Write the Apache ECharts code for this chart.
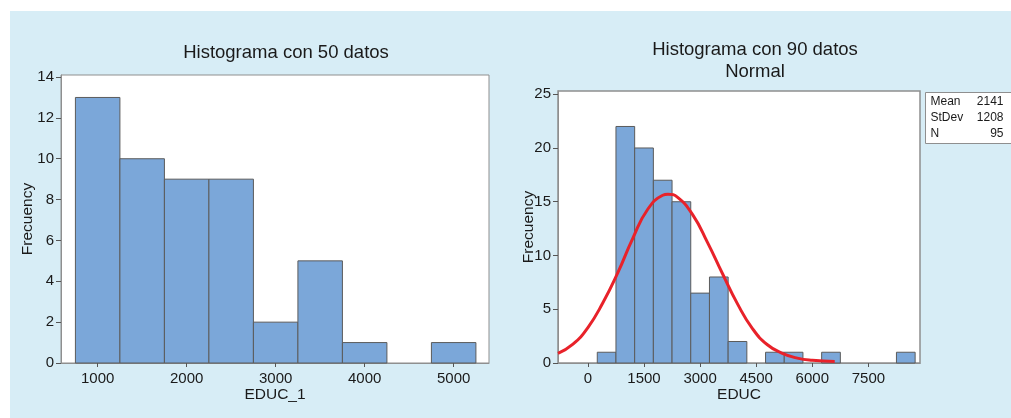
<!DOCTYPE html>
<html>
<head>
<meta charset="utf-8">
<script src="https://cdn.jsdelivr.net/npm/echarts@6/dist/echarts.min.js"></script>
<style>
body { margin: 0; background: #fff; }
#bg { position: absolute; left: 10px; top: 11px; width: 1001px; height: 407px; background: #d7edf6; }
#main { position: absolute; left: 0; top: 0; width: 1011px; height: 418px; }
</style>
</head>
<body>
<div id="bg"></div>
<div id="main"></div>
<script>
// histograma 1 (50 datos)
var binWidth = 500;
var centros1 = [1000, 1500, 2000, 2500, 3000, 3500, 4000, 4500, 5000];
var frec1 = [13, 10, 9, 9, 2, 5, 1, 0, 1];
var ticksX1 = [1000, 2000, 3000, 4000, 5000];
var ticksY1 = [0, 2, 4, 6, 8, 10, 12, 14];

// histograma 2 (EDUC)
var centros2 = [500, 1000, 1500, 2000, 2500, 3000, 3500, 4000, 4500, 5000, 5500, 6000, 6500, 7000, 7500, 8000, 8500];
var frec2 = [1, 22, 20, 17, 15, 6.5, 8, 2, 0, 1, 1, 0, 1, 0, 0, 0, 1];
var ticksX2 = [0, 1500, 3000, 4500, 6000, 7500];
var ticksY2 = [0, 5, 10, 15, 20, 25];

// curva normal
var curvaX = [-800, -400, 0, 400, 800, 1200, 1600, 2000, 2140, 2400, 2800, 3200, 3600, 4000, 4400, 4800, 5200, 5600, 6000, 6600];
var curvaY = [0.9, 1.75, 3.3, 5.6, 8.4, 11.6, 14.3, 15.6, 15.7, 15.4, 13.8, 11.2, 8.3, 5.5, 3.2, 1.7, 0.9, 0.45, 0.25, 0.15];

var statsNombres = ['Mean', 'StDev', 'N'];
var statsValores = ['2141', '1208', '95'];

var barColor = '#7ba7d9';
var barEdge = '#5b5b5b';
var txtColor = '#1a1a1a';
var frameColor = '#8f8f8f';
var fontFam = '"Liberation Sans", Arial, sans-serif';

function binData(centros, frec) {
    var out = [];
    for (var i = 0; i < centros.length; i++) {
        if (frec[i] > 0) out.push([centros[i] - binWidth / 2, centros[i] + binWidth / 2, frec[i]]);
    }
    return out;
}

function renderHist(params, api) {
    var p0 = api.coord([api.value(0), api.value(2)]);
    var p1 = api.coord([api.value(1), 0]);
    return {
        type: 'rect',
        shape: { x: p0[0], y: p0[1], width: p1[0] - p0[0], height: p1[1] - p0[1] },
        style: { fill: barColor, stroke: barEdge, lineWidth: 1 }
    };
}

var curva = curvaX.map(function (x, i) { return [x, curvaY[i]]; });

function plain(v) { return String(v); }

function xAxisCfg(idx, min, max, ticks, name) {
    return {
        type: 'value', gridIndex: idx, min: min, max: max,
        name: name, nameLocation: 'middle', nameGap: 24, nameMoveOverlap: false,
        nameTextStyle: { color: txtColor, fontSize: 15.5, fontFamily: fontFam },
        splitLine: { show: false },
        axisLine: { show: true, onZero: false, lineStyle: { color: frameColor } },
        axisTick: { show: true, inside: false, length: 4, customValues: ticks, lineStyle: { color: '#555' } },
        axisLabel: { customValues: ticks, formatter: plain, color: txtColor, fontSize: 15, fontFamily: fontFam, margin: 8 }
    };
}

function yAxisCfg(idx, max, ticks, gap) {
    return {
        type: 'value', gridIndex: idx, min: 0, max: max,
        name: 'Frecuency', nameLocation: 'middle', nameGap: gap, nameRotate: 90, nameMoveOverlap: false,
        nameTextStyle: { color: txtColor, fontSize: 15.5, fontFamily: fontFam },
        splitLine: { show: false },
        axisLine: { show: true, onZero: false, lineStyle: { color: frameColor } },
        axisTick: { show: true, inside: false, length: 5, customValues: ticks, lineStyle: { color: '#555' } },
        axisLabel: { customValues: ticks, formatter: plain, color: txtColor, fontSize: 15, fontFamily: fontFam, margin: 7 }
    };
}

var chart = echarts.init(document.getElementById('main'));

var option = {
    backgroundColor: 'transparent',
    animation: false,
    title: [{
        text: 'Histograma con 50 datos',
        left: 281, top: 38, textAlign: 'center',
        textStyle: { color: txtColor, fontSize: 18.5, fontWeight: 'normal', fontFamily: fontFam }
    }, {
        text: 'Histograma con 90 datos\nNormal',
        left: 750, top: 34, textAlign: 'center',
        textStyle: { color: txtColor, fontSize: 18.5, fontWeight: 'normal', fontFamily: fontFam, lineHeight: 22 }
    }],
    grid: [
        { left: 61, top: 75, width: 428, height: 288, show: true, backgroundColor: '#fff', borderColor: frameColor, borderWidth: 1 },
        { left: 558, top: 91, width: 362, height: 272, show: true, backgroundColor: '#fff', borderColor: frameColor, borderWidth: 1.5 }
    ],
    xAxis: [
        xAxisCfg(0, 588, 5397, ticksX1, 'EDUC_1'),
        xAxisCfg(1, -800, 8880, ticksX2, 'EDUC')
    ],
    yAxis: [
        yAxisCfg(0, 14.1, ticksY1, 25),
        yAxisCfg(1, 25.3, ticksY2, 21)
    ],
    graphic: [{
        type: 'group', left: 925, top: 92,
        children: [
            { type: 'rect', shape: { x: 0, y: 0, width: 95, height: 51 }, style: { fill: '#fff', stroke: frameColor, lineWidth: 1 } }
        ].concat(statsNombres.map(function (n, i) {
            return { type: 'text', x: 5, y: 3 + i * 16, style: { text: n, fill: txtColor, font: '12px ' + fontFam } };
        })).concat(statsValores.map(function (v, i) {
            return { type: 'text', x: 78, y: 3 + i * 16, style: { text: v, fill: txtColor, font: '12px ' + fontFam, textAlign: 'right' } };
        }))
    }],
    series: [{
        type: 'custom', xAxisIndex: 0, yAxisIndex: 0,
        renderItem: renderHist,
        encode: { x: [0, 1], y: 2 },
        data: binData(centros1, frec1)
    }, {
        type: 'custom', xAxisIndex: 1, yAxisIndex: 1,
        renderItem: renderHist,
        encode: { x: [0, 1], y: 2 },
        data: binData(centros2, frec2)
    }, {
        type: 'line', xAxisIndex: 1, yAxisIndex: 1,
        data: curva, smooth: 0.5, symbol: 'none', z: 5,
        lineStyle: { color: '#e8222a', width: 3 }
    }]
};

chart.setOption(option);
</script>
</body>
</html>
